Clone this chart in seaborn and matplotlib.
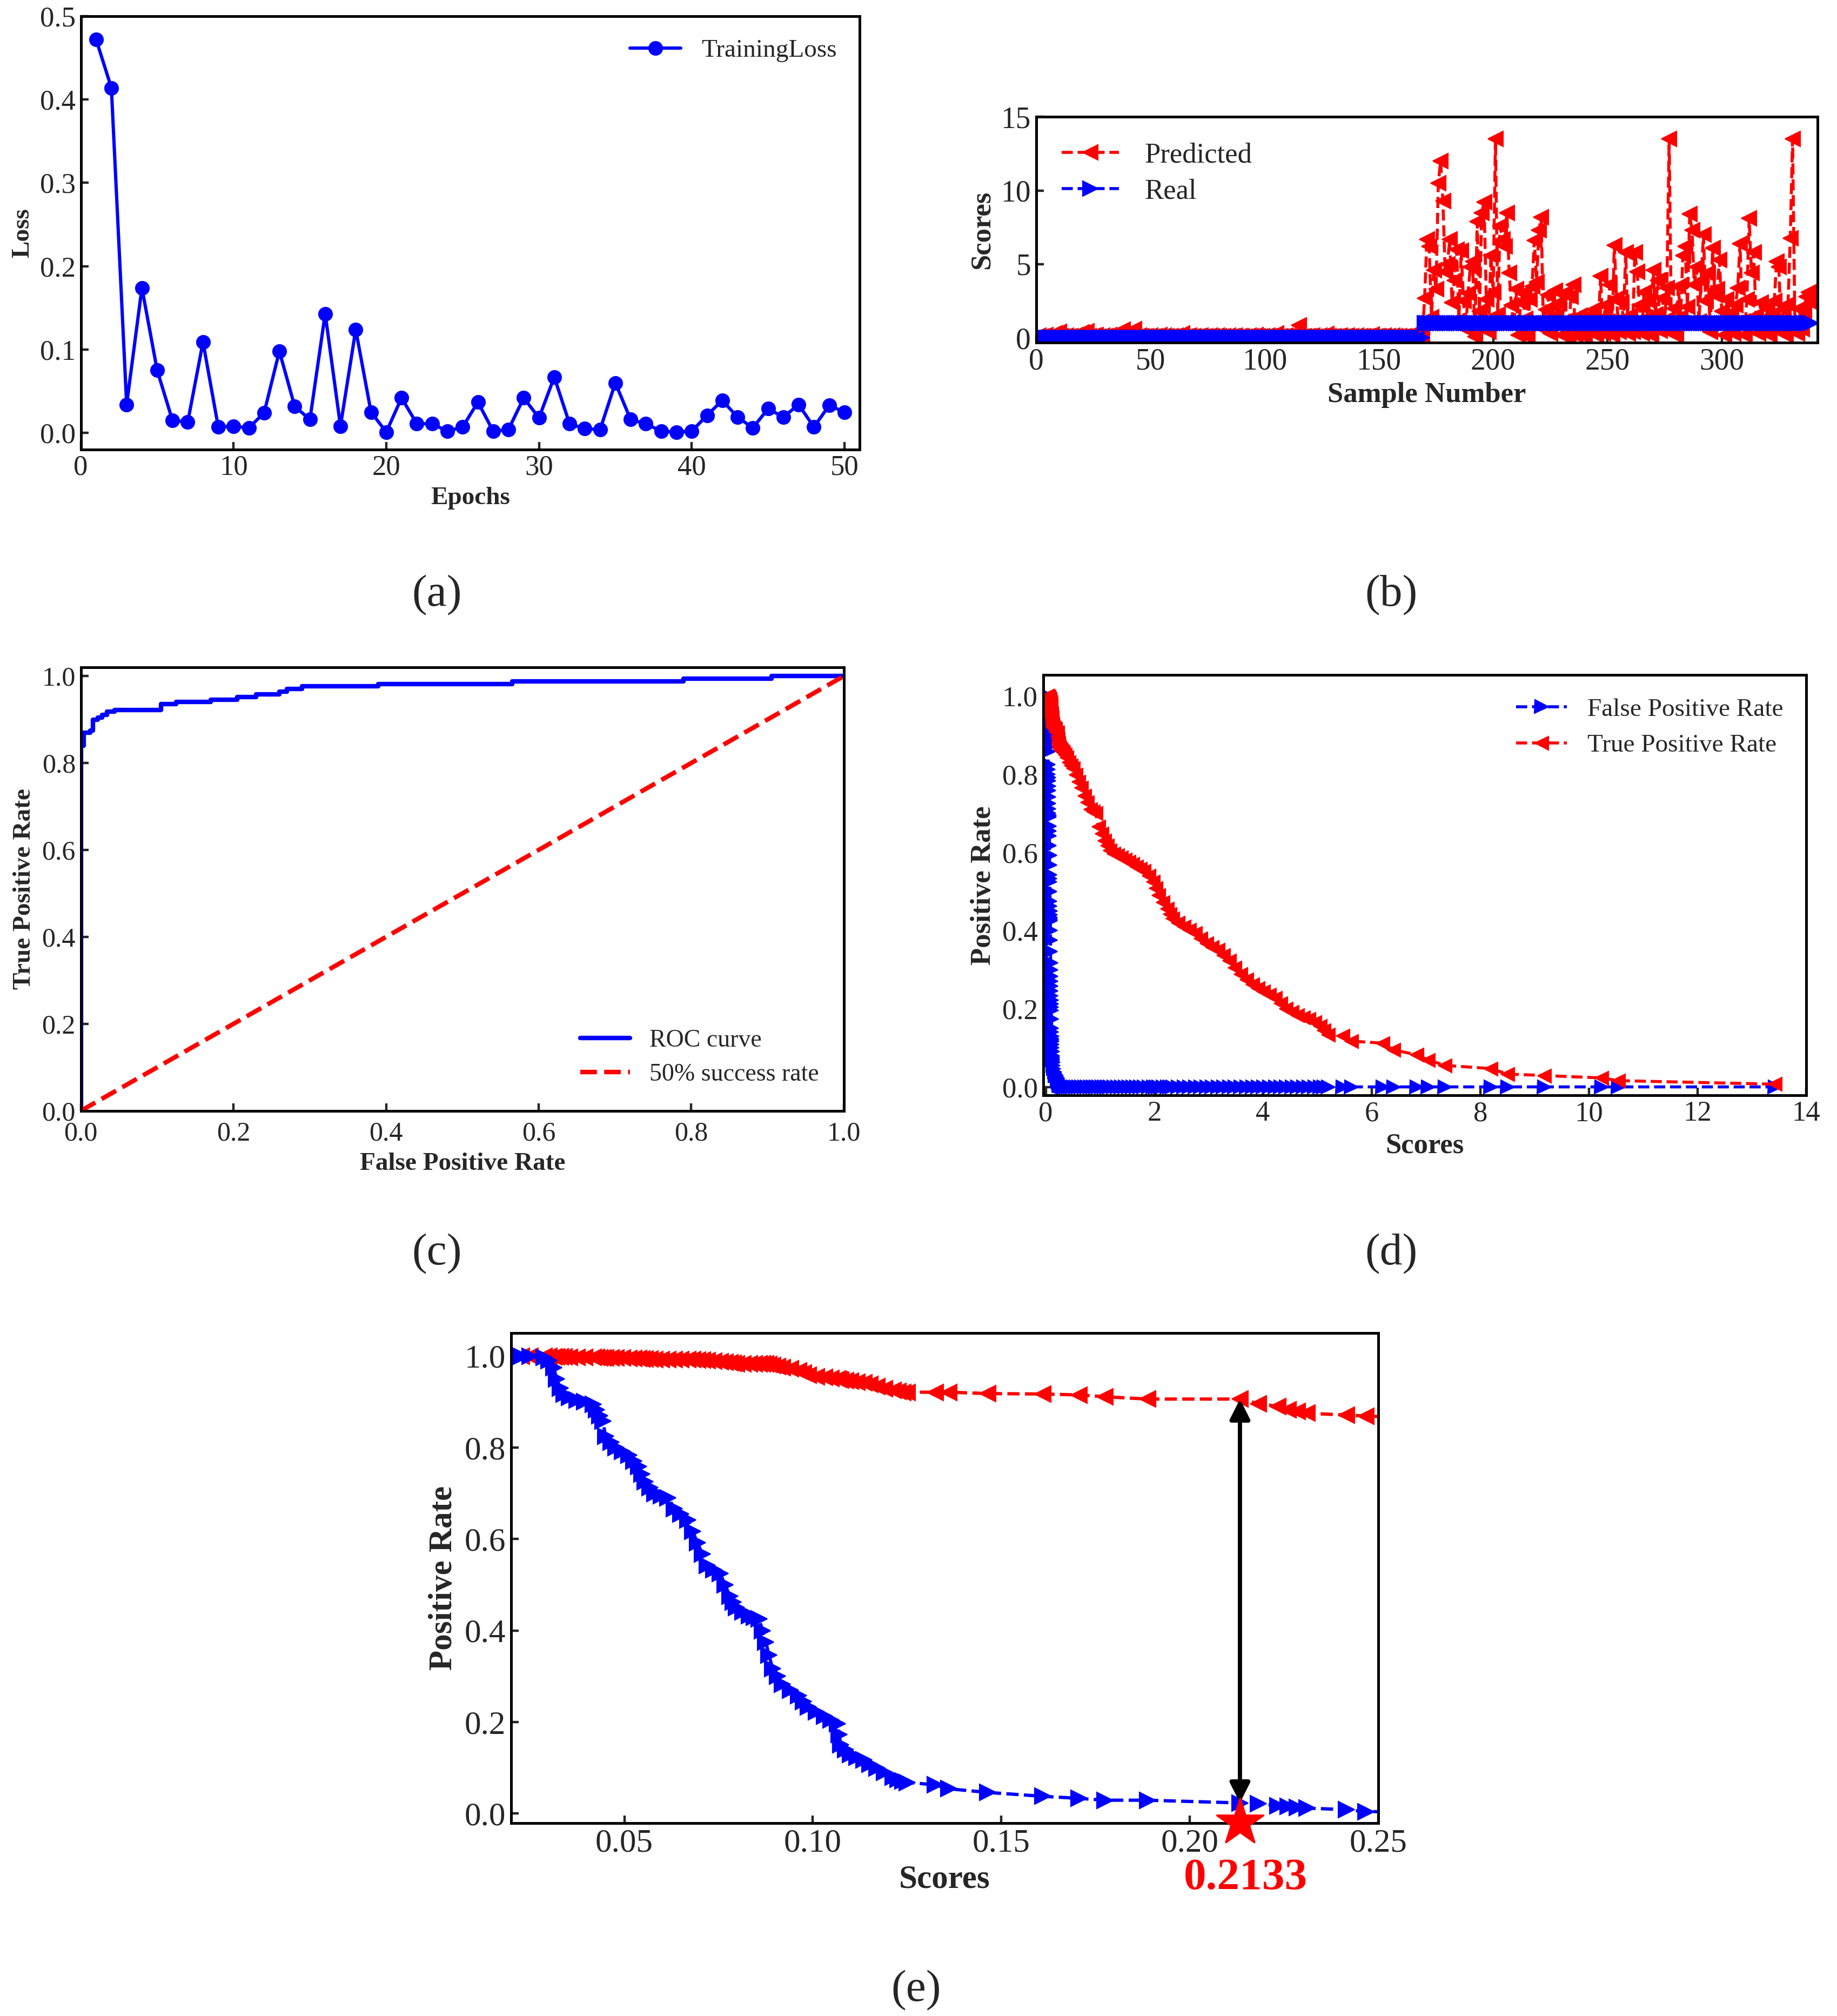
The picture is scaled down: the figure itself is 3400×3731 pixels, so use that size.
import numpy as np
import matplotlib
matplotlib.use('Agg')
import matplotlib.pyplot as plt
import seaborn as sns

sns.set_style('ticks')
plt.rcParams['font.family'] = ['Liberation Serif', 'DejaVu Serif']
plt.rcParams['axes.linewidth'] = 1.8
plt.rcParams['xtick.direction'] = 'in'
plt.rcParams['ytick.direction'] = 'in'
plt.rcParams['xtick.major.size'] = 5
plt.rcParams['ytick.major.size'] = 5
plt.rcParams['xtick.major.width'] = 1.6
plt.rcParams['ytick.major.width'] = 1.6

# (a) training loss
epochs = np.arange(1, 51)
train_loss = [0.472, 0.414, 0.034, 0.174, 0.075, 0.015, 0.013, 0.109, 0.007, 0.008,
              0.006, 0.024, 0.098, 0.032, 0.016, 0.143, 0.008, 0.124, 0.025, 0.001,
              0.042, 0.011, 0.011, 0.002, 0.007, 0.037, 0.002, 0.004, 0.042, 0.018,
              0.067, 0.011, 0.005, 0.004, 0.060, 0.016, 0.011, 0.002, 0.001, 0.002,
              0.021, 0.039, 0.019, 0.006, 0.029, 0.019, 0.034, 0.007, 0.033, 0.025]

# (b) predicted vs real scores
sample_no = np.arange(340)
real_scores = [0] * 170 + [1] * 170
pred_scores = [
    0.10, 0.15, 0.08, 0.12, 0.20, 0.06, 0.14, 0.11, 0.30, 0.09,
    0.42, 0.12, 0.07, 0.16, 0.10, 0.13, 0.08, 0.18, 0.11, 0.15,
    0.38, 0.09, 0.45, 0.12, 0.06, 0.14, 0.20, 0.10, 0.08, 0.16,
    0.12, 0.09, 0.18, 0.07, 0.11, 0.25, 0.13, 0.10, 0.55, 0.08,
    0.14, 0.12, 0.20, 0.58, 0.09, 0.15, 0.11, 0.07, 0.13, 0.10,
    0.16, 0.08, 0.12, 0.10, 0.18, 0.06, 0.14, 0.11, 0.09, 0.13,
    0.10, 0.15, 0.07, 0.12, 0.30, 0.09, 0.11, 0.14, 0.08, 0.12,
    0.10, 0.13, 0.16, 0.07, 0.11, 0.09, 0.14, 0.12, 0.08, 0.15,
    0.11, 0.09, 0.13, 0.10, 0.17, 0.08, 0.12, 0.14, 0.06, 0.11,
    0.13, 0.10, 0.08, 0.15, 0.12, 0.09, 0.20, 0.11, 0.07, 0.13,
    0.10, 0.14, 0.12, 0.08, 0.11, 0.30, 0.09, 0.13, 0.10, 0.15,
    0.12, 0.08, 0.11, 0.25, 0.14, 0.85, 0.10, 0.13, 0.09, 0.12,
    0.11, 0.15, 0.07, 0.10, 0.14, 0.12, 0.09, 0.28, 0.11, 0.08,
    0.13, 0.10, 0.12, 0.16, 0.09, 0.11, 0.14, 0.07, 0.12, 0.10,
    0.15, 0.09, 0.11, 0.13, 0.08, 0.12, 0.10, 0.22, 0.09, 0.13,
    0.11, 0.08, 0.14, 0.10, 0.12, 0.09, 0.16, 0.11, 0.07, 0.13,
    0.10, 0.12, 0.09, 0.15, 0.11, 0.08, 0.13, 0.10, 0.12, 0.09,
    2.7, 6.7, 6.2, 1.4, 4.6, 3.3, 10.5, 12.0, 9.3, 4.5,
    5.0, 6.7, 2.4, 3.9, 6.0, 1.2, 5.9, 2.5, 0.6, 3.0,
    4.8, 5.2, 0.1, 7.9, 1.8, 8.5, 9.2, 2.6, 0.4, 5.6,
    3.1, 13.5, 1.6, 7.6, 6.7, 6.2, 8.5, 4.4, 2.2, 0.8,
    3.3, 0.2, 2.4, 3.0, 1.3, 0.1, 2.6, 3.5, 6.6, 3.8,
    7.3, 8.2, 0.6, 1.9, 2.9, 0.3, 1.4, 3.2, 0.9, 2.4,
    0.2, 3.0, 1.2, 0.1, 2.8, 3.6, 0.2, 0.9, 1.5, 0.3,
    0.1, 1.2, 0.5, 1.6, 1.9, 0.2, 0.8, 4.2, 0.3, 2.2,
    1.1, 3.6, 0.2, 6.3, 2.7, 0.4, 2.4, 1.3, 5.8, 0.3,
    1.5, 0.4, 5.8, 4.5, 2.2, 0.3, 3.1, 1.0, 2.5, 0.2,
    4.6, 1.6, 3.9, 0.5, 2.7, 1.2, 3.4, 13.5, 0.3, 2.0,
    0.2, 3.5, 1.4, 5.6, 6.2, 2.1, 8.4, 7.3, 3.6, 4.8,
    1.1, 3.9, 7.0, 2.5, 4.4, 0.4, 6.1, 2.9, 3.3, 5.3,
    1.8, 0.2, 2.6, 0.9, 1.7, 0.3, 2.2, 3.4, 6.4, 1.1,
    0.2, 2.6, 8.1, 4.4, 5.8, 1.5, 0.3, 2.4, 1.2, 0.6,
    2.0, 0.2, 1.6, 2.5, 5.2, 4.8, 0.4, 1.9, 0.2, 2.3,
    6.75, 13.5, 1.1, 0.3, 2.0, 0.6, 1.8, 2.8, 3.1, 2.4]

# (c) ROC curve corners
roc_fpr = [0.0, 0.0, 0.004, 0.004, 0.012, 0.012, 0.016, 0.016, 0.022, 0.022,
           0.028, 0.028, 0.034, 0.034, 0.044, 0.044, 0.105, 0.105, 0.125, 0.125,
           0.170, 0.170, 0.205, 0.205, 0.230, 0.230, 0.260, 0.260, 0.270, 0.270,
           0.290, 0.290, 0.390, 0.390, 0.565, 0.565, 0.790, 0.790, 0.905, 0.905, 1.0]
roc_tpr = [0.0, 0.840, 0.840, 0.870, 0.870, 0.875, 0.875, 0.900, 0.900, 0.905,
           0.905, 0.910, 0.910, 0.918, 0.918, 0.922, 0.922, 0.936, 0.936, 0.940,
           0.940, 0.946, 0.946, 0.952, 0.952, 0.958, 0.958, 0.964, 0.964, 0.970,
           0.970, 0.976, 0.976, 0.982, 0.982, 0.988, 0.988, 0.994, 0.994, 1.0, 1.0]
chance = [0.0, 1.0]

# (d)/(e) rates against score threshold
thresholds = [
    0.0227, 0.0250, 0.0287, 0.0300, 0.0313, 0.0320, 0.0330, 0.0340, 0.0355, 0.0374,
    0.0395, 0.0417, 0.0426, 0.0435, 0.0443, 0.0450, 0.0465, 0.0478, 0.0495, 0.0512,
    0.0525, 0.0538, 0.0546, 0.0555, 0.0568, 0.0581, 0.0598, 0.0616, 0.0633, 0.0650,
    0.0668, 0.0681, 0.0694, 0.0707, 0.0720, 0.0737, 0.0754, 0.0767, 0.0780, 0.0789,
    0.0798, 0.0815, 0.0832, 0.0845, 0.0858, 0.0866, 0.0875, 0.0884, 0.0893, 0.0906,
    0.0919, 0.0940, 0.0962, 0.0975, 0.0988, 0.1010, 0.1031, 0.1048, 0.1066, 0.1070,
    0.1074, 0.1087, 0.1100, 0.1117, 0.1135, 0.1152, 0.1170, 0.1190, 0.1213, 0.1226,
    0.1239, 0.1250, 0.1325, 0.1360, 0.1464, 0.1610, 0.1706, 0.1775, 0.1888, 0.2133,
    0.2182, 0.2234, 0.2260, 0.2285, 0.2311, 0.2415, 0.2467,
    0.255, 0.262, 0.270, 0.280, 0.300, 0.320, 0.350, 0.380, 0.420, 0.460,
    0.500, 0.550, 0.600, 0.650, 0.710, 0.760, 0.820, 0.870, 0.920, 0.970,
    1.030, 1.080, 1.130, 1.180, 1.250, 1.320, 1.390, 1.460, 1.530, 1.600,
    1.670, 1.740, 1.810, 1.890, 1.970, 2.020, 2.070, 2.150, 2.230, 2.280,
    2.330, 2.430, 2.540, 2.640, 2.750, 2.850, 2.960, 3.060, 3.170, 3.270,
    3.380, 3.480, 3.590, 3.700, 3.800, 3.900, 4.000, 4.110, 4.220, 4.320,
    4.420, 4.530, 4.630, 4.740, 4.840, 4.950, 5.050, 5.120, 5.200, 5.470,
    5.630, 6.200, 6.400, 6.830, 7.040, 7.350, 8.190, 8.500, 9.180, 10.230,
    10.540, 13.420]
fpr_rate = [
    1.000, 1.000, 0.997, 0.990, 0.975, 0.950, 0.930, 0.917, 0.910, 0.904,
    0.900, 0.895, 0.883, 0.870, 0.858, 0.825, 0.812, 0.800, 0.792, 0.783,
    0.770, 0.758, 0.742, 0.725, 0.712, 0.700, 0.695, 0.690, 0.667, 0.655,
    0.642, 0.617, 0.592, 0.567, 0.542, 0.533, 0.525, 0.500, 0.475, 0.462,
    0.450, 0.441, 0.433, 0.429, 0.425, 0.400, 0.375, 0.346, 0.317, 0.300,
    0.283, 0.270, 0.258, 0.245, 0.233, 0.222, 0.2125, 0.204, 0.196, 0.173,
    0.150, 0.140, 0.129, 0.123, 0.117, 0.108, 0.100, 0.090, 0.079, 0.075,
    0.071, 0.068, 0.0625, 0.054, 0.046, 0.0375, 0.033, 0.029, 0.029, 0.023,
    0.021, 0.0167, 0.015, 0.013, 0.0117, 0.0083, 0.004,
    0.004, 0.003, 0.003, 0.002, 0.001, 0.0, 0.0, 0.0, 0.0, 0.0,
    0.0, 0.0, 0.0, 0.0, 0.0, 0.0, 0.0, 0.0, 0.0, 0.0,
    0.0, 0.0, 0.0, 0.0, 0.0, 0.0, 0.0, 0.0, 0.0, 0.0,
    0.0, 0.0, 0.0, 0.0, 0.0, 0.0, 0.0, 0.0, 0.0, 0.0,
    0.0, 0.0, 0.0, 0.0, 0.0, 0.0, 0.0, 0.0, 0.0, 0.0,
    0.0, 0.0, 0.0, 0.0, 0.0, 0.0, 0.0, 0.0, 0.0, 0.0,
    0.0, 0.0, 0.0, 0.0, 0.0, 0.0, 0.0, 0.0, 0.0, 0.0,
    0.0, 0.0, 0.0, 0.0, 0.0, 0.0, 0.0, 0.0, 0.0, 0.0,
    0.0, 0.0]
tpr_rate = [
    1.000, 1.000, 1.000, 1.000, 0.998, 0.998, 0.998, 0.998, 0.997, 0.997,
    0.997, 0.997, 0.997, 0.996, 0.996, 0.996, 0.996, 0.996, 0.996, 0.995,
    0.995, 0.995, 0.994, 0.994, 0.994, 0.993, 0.993, 0.992, 0.992, 0.992,
    0.992, 0.992, 0.991, 0.991, 0.990, 0.989, 0.988, 0.986, 0.985, 0.984,
    0.983, 0.983, 0.983, 0.983, 0.983, 0.983, 0.983, 0.982, 0.980, 0.977,
    0.975, 0.972, 0.968, 0.963, 0.958, 0.955, 0.953, 0.951, 0.950, 0.949,
    0.948, 0.946, 0.945, 0.943, 0.942, 0.938, 0.933, 0.929, 0.925, 0.923,
    0.921, 0.921, 0.921, 0.921, 0.918, 0.917, 0.915, 0.911, 0.906, 0.906,
    0.896, 0.890, 0.883, 0.879, 0.875, 0.871, 0.869,
    0.866, 0.864, 0.862, 0.860, 0.858, 0.855, 0.850, 0.842, 0.830, 0.822,
    0.815, 0.798, 0.780, 0.765, 0.745, 0.728, 0.710, 0.705, 0.700, 0.666,
    0.648, 0.630, 0.618, 0.605, 0.597, 0.592, 0.587, 0.581, 0.576, 0.570,
    0.564, 0.558, 0.552, 0.540, 0.525, 0.508, 0.490, 0.472, 0.455, 0.442,
    0.430, 0.420, 0.410, 0.402, 0.394, 0.380, 0.367, 0.358, 0.350, 0.337,
    0.323, 0.305, 0.288, 0.275, 0.262, 0.253, 0.244, 0.236, 0.227, 0.213,
    0.200, 0.191, 0.183, 0.178, 0.174, 0.165, 0.156, 0.145, 0.134, 0.130,
    0.117, 0.112, 0.095, 0.082, 0.069, 0.055, 0.047, 0.033, 0.029, 0.023,
    0.016, 0.007]
best_thr = 0.2133
best_fpr = 0.023
best_tpr = 0.906

blue = '#0000ff'
red = '#ff0000'

fig = plt.figure(figsize=(17, 18.655), dpi=200)


def style_axes(ax, fs):
    ax.tick_params(axis='both', which='both', top=False, right=False, labelsize=fs)
    for s in ax.spines.values():
        s.set_visible(True)
        s.set_linewidth(1.8)
        s.set_color('black')


# (a)
ax = fig.add_axes([0.044, 0.777, 0.424, 0.215])
sns.lineplot(x=epochs, y=train_loss, ax=ax, color=blue, marker='o', markersize=9,
             markeredgecolor=blue, linewidth=2.2, estimator=None, sort=False,
             label='TrainingLoss')
ax.set_xlim(0, 51)
ax.set_ylim(-0.02, 0.5)
ax.set_xticks([0, 10, 20, 30, 40, 50])
ax.set_yticks([0.0, 0.1, 0.2, 0.3, 0.4, 0.5])
ax.set_xlabel('Epochs', fontsize=17, fontweight='bold')
ax.set_ylabel('Loss', fontsize=17, fontweight='bold')
ax.legend(loc='upper right', frameon=False, fontsize=17)
style_axes(ax, 19)

# (b)
ax = fig.add_axes([0.564, 0.830, 0.4255, 0.112])
sns.lineplot(x=sample_no, y=pred_scores, ax=ax, color=red, marker='<', markersize=10,
             markeredgecolor=red, linewidth=2, linestyle='--', estimator=None,
             sort=False, label='Predicted')
sns.lineplot(x=sample_no, y=real_scores, ax=ax, color=blue, marker='>', markersize=10,
             markeredgecolor=blue, linewidth=2, linestyle='--', estimator=None,
             sort=False, label='Real')
ax.set_xlim(0, 342)
ax.set_ylim(-0.33, 15)
ax.set_xticks([0, 50, 100, 150, 200, 250, 300])
ax.set_yticks([0, 5, 10, 15])
ax.set_xlabel('Sample Number', fontsize=19, fontweight='bold')
ax.set_ylabel('Scores', fontsize=19, fontweight='bold')
ax.legend(loc='upper left', frameon=False, fontsize=19, handlelength=2.0,
          labelspacing=0.35, handletextpad=0.9)
style_axes(ax, 20)

# (c)
ax = fig.add_axes([0.044, 0.449, 0.4154, 0.220])
sns.lineplot(x=roc_fpr, y=roc_tpr, ax=ax, color=blue, linewidth=3, estimator=None,
             sort=False, label='ROC curve')
sns.lineplot(x=chance, y=chance, ax=ax, color=red, linewidth=3, linestyle='--',
             estimator=None, sort=False, label='50% success rate')
ax.set_xlim(0, 1.0)
ax.set_ylim(0, 1.02)
ax.set_xticks([0.0, 0.2, 0.4, 0.6, 0.8, 1.0])
ax.set_yticks([0.0, 0.2, 0.4, 0.6, 0.8, 1.0])
ax.set_xlabel('False Positive Rate', fontsize=17, fontweight='bold')
ax.set_ylabel('True Positive Rate', fontsize=17, fontweight='bold')
ax.legend(loc='lower right', frameon=False, fontsize=16.5, borderaxespad=0.6,
          labelspacing=0.45)
style_axes(ax, 18)
ax.tick_params(axis='x', pad=7)

# (d)
ax = fig.add_axes([0.5678, 0.4566, 0.4154, 0.2086])
sns.lineplot(x=thresholds, y=fpr_rate, ax=ax, color=blue, marker='>', markersize=9,
             markeredgecolor=blue, linewidth=2, linestyle='--', estimator=None,
             sort=False, label='False Positive Rate')
sns.lineplot(x=thresholds, y=tpr_rate, ax=ax, color=red, marker='<', markersize=9,
             markeredgecolor=red, linewidth=2, linestyle='--', estimator=None,
             sort=False, label='True Positive Rate')
ax.set_xlim(-0.05, 14)
ax.set_ylim(-0.022, 1.054)
ax.set_xticks([0, 2, 4, 6, 8, 10, 12, 14])
ax.set_yticks([0.0, 0.2, 0.4, 0.6, 0.8, 1.0])
ax.set_xlabel('Scores', fontsize=19, fontweight='bold')
ax.set_ylabel('Positive Rate', fontsize=19, fontweight='bold')
ax.legend(loc='upper right', frameon=False, fontsize=17, labelspacing=0.5)
style_axes(ax, 19)

# (e)
ax = fig.add_axes([0.2783, 0.0957, 0.472, 0.243])
sns.lineplot(x=thresholds, y=tpr_rate, ax=ax, color=red, marker='<', markersize=11,
             markeredgecolor=red, linewidth=2.2, linestyle='--', estimator=None,
             sort=False)
sns.lineplot(x=thresholds, y=fpr_rate, ax=ax, color=blue, marker='>', markersize=11,
             markeredgecolor=blue, linewidth=2.2, linestyle='--', estimator=None,
             sort=False)
ax.annotate('', xy=(best_thr, best_tpr), xytext=(best_thr, best_fpr),
            arrowprops=dict(arrowstyle='<|-|>', color='black', lw=2.8,
                            mutation_scale=28, shrinkA=0, shrinkB=0))
ax.plot(best_thr, -0.02, marker='*', markersize=33, color=red, markeredgecolor=red,
        clip_on=False, zorder=10)
ax.text(best_thr + 0.0015, -0.142, f'{best_thr:.4f}', color=red, fontsize=30,
        fontweight='bold', ha='center', va='center', clip_on=False)
ax.set_xlim(0.02, 0.25)
ax.set_ylim(-0.021, 1.05)
ax.set_xticks([0.05, 0.10, 0.15, 0.20, 0.25])
ax.set_xticklabels(['0.05', '0.10', '0.15', '0.20', '0.25'])
ax.set_yticks([0.0, 0.2, 0.4, 0.6, 0.8, 1.0])
ax.set_xlabel('Scores', fontsize=22, fontweight='bold')
ax.set_ylabel('Positive Rate', fontsize=22, fontweight='bold')
style_axes(ax, 22)

# panel letters
for lx, ly, txt in [(0.2378, 0.7047, '(a)'), (0.7573, 0.7047, '(b)'),
                    (0.2378, 0.378, '(c)'), (0.7573, 0.378, '(d)'),
                    (0.4986, 0.0128, '(e)')]:
    fig.text(lx, ly, txt, fontsize=30, ha='center', va='center')

fig.savefig('out.png', dpi=200)
